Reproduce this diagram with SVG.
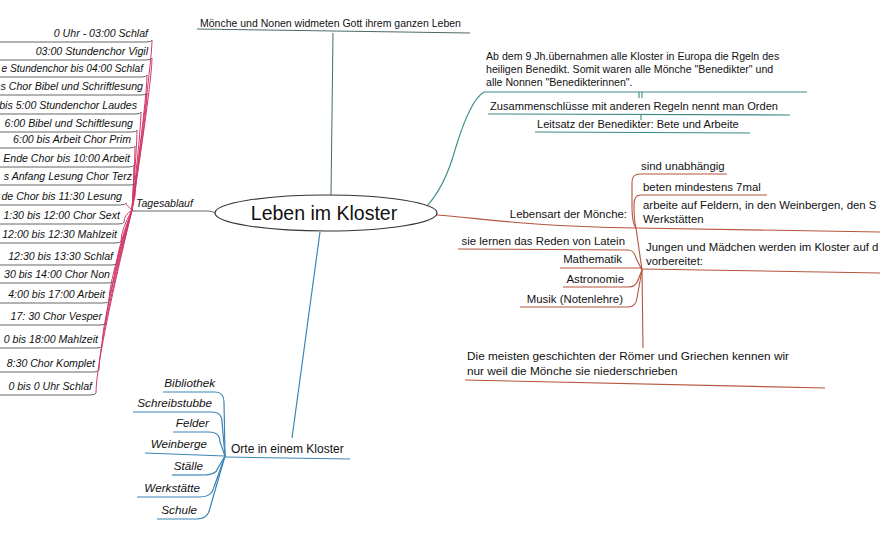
<svg xmlns="http://www.w3.org/2000/svg" width="880" height="540" viewBox="0 0 880 540">
<style>
.t{font-family:"Liberation Sans",Arial,sans-serif;fill:#111}
.ti{font-family:"Liberation Sans",Arial,sans-serif;font-style:italic;fill:#111}
.s{font-size:10.5px}
.r{font-size:10.6px}
.e{text-anchor:end}
.g{fill:none;stroke:#666;stroke-width:1}
.p{fill:none;stroke:#d03a6a;stroke-width:1}
.red{fill:none;stroke:#b5563e;stroke-width:1.1}
.teal{fill:none;stroke:#3b8a88;stroke-width:1.1}
.blue{fill:none;stroke:#3b86b8;stroke-width:1.2}
.dk{fill:none;stroke:#4a6a68;stroke-width:1}
</style>
<rect width="880" height="540" fill="#fff"/>

<g id="connectors">
  <path class="dk" d="M331 195 L333 33"/>
  <path class="teal" d="M427 206 Q445 186 455 150 Q470 100 484 92"/>
  <path class="teal" d="M639 92 V98 M642 92 V98 M641 115 V120"/>
  <path class="red" d="M437 215 C480 218 520 226 636 228"/>
  <path class="red" d="M636 228 Q632 224 632 205 L632 182 Q632 174 640 174"/>
  <path class="red" d="M636 228 Q634 222 634 204 Q634 195 641 195"/>
  <path class="red" d="M636 228 L642 270"/>
  <path class="red" d="M642 270 L643 348"/>
  <path class="red" d="M628 250 Q634 250 636 258 L642 270"/>
  <path class="red" d="M628 287 Q636 287 638 280 L642 270"/>
  <path class="red" d="M628 307 Q636 307 637 298 L642 270"/>
  <path class="blue" d="M320 232 L292 438"/>
  <path class="blue" d="M215 392 Q224 392 224 402 L225 456"/>
  <path class="blue" d="M212 412 Q222 412 222 422 L225 456"/>
  <path class="blue" d="M209 432 Q220 432 220 442 L225 456"/>
  <path class="blue" d="M203 475 Q216 475 218 468 L225 456"/>
  <path class="blue" d="M200 497 Q212 497 214 487 L225 456"/>
  <path class="blue" d="M197 519 Q208 519 210 508 L225 456"/>
  <path class="g" d="M132 211 L208 211 Q212 211 215 213"/>
  <path class="p" d="M132 210 Q152 60 152 40"/>
  <path class="p" d="M132 210 Q152 80 152 58"/>
  <path class="p" d="M132 210 Q147 95 147 75"/>
  <path class="p" d="M132 210 Q147 110 147 93"/>
  <path class="p" d="M132 210 Q141 128 141 112"/>
  <path class="p" d="M132 210 Q137 145 137 130"/>
  <path class="p" d="M132 210 Q135 160 135 146"/>
  <path class="p" d="M132 210 Q134 178 134 165"/>
  <path class="p" d="M132 210 Q136 195 136 183"/>
  <path class="p" d="M132 210 Q126 205 126 203"/>
  <path class="p" d="M132 210 Q124 215 124 222"/>
  <path class="p" d="M132 210 Q121 230 121 241"/>
  <path class="p" d="M132 210 Q117 250 117 263"/>
  <path class="p" d="M132 210 Q114 265 114 281"/>
  <path class="p" d="M132 210 Q109 280 109 301"/>
  <path class="p" d="M132 210 Q106 300 106 323"/>
  <path class="p" d="M132 210 Q102 320 102 346"/>
  <path class="p" d="M132 210 Q99 340 99 370"/>
  <path class="p" d="M132 210 Q96 360 96 393"/>
</g>

<g id="center">
  <ellipse cx="326" cy="213" rx="111" ry="18" fill="#fff" stroke="#333" stroke-width="1.2"/>
  <text class="t" x="324" y="220" font-size="19.5" text-anchor="middle">Leben im Kloster</text>
</g>

<g id="n-top">
  <path class="dk" d="M197 29 L470 33"/>
  <text class="t s" x="200" y="27">Mönche und Nonen widmeten Gott ihrem ganzen Leben</text>
</g>

<g id="n-benedikt">
  <path class="teal" d="M484 92 L807 92"/>
  <text class="t" font-size="10.6" x="486" y="60">Ab dem 9 Jh.übernahmen alle Kloster in Europa die Rgeln des</text>
  <text class="t" font-size="10.6" x="486" y="73">heiligen Benedikt. Somit waren alle Mönche "Benedikter" und</text>
  <text class="t" font-size="10.6" x="486" y="86">alle Nonnen "Benedikterinnen".</text>
</g>
<g id="n-orden">
  <path class="teal" d="M488 114 L790 115"/>
  <text class="t" font-size="11.1" x="490" y="110">Zusammenschlüsse mit anderen Regeln nennt man Orden</text>
</g>
<g id="n-leitsatz">
  <path class="teal" d="M535 132 L750 133"/>
  <text class="t" font-size="11.1" x="537" y="128">Leitsatz der Benedikter: Bete und Arbeite</text>
</g>

<g id="n-lebensart">
  <text class="t e" font-size="11.4" x="627" y="218">Lebensart der Mönche:</text>
</g>
<g id="n-sind">
  <path class="red" d="M640 174 H727"/>
  <text class="t" font-size="11.4" x="641" y="170">sind unabhängig</text>
</g>
<g id="n-beten">
  <path class="red" d="M641 195 H767"/>
  <text class="t" font-size="11.4" x="643" y="191">beten mindestens 7mal</text>
</g>
<g id="n-arbeite">
  <path class="red" d="M636 228 L880 232"/>
  <text class="t" font-size="11.4" x="643" y="209">arbeite auf Feldern, in den Weinbergen, den S</text>
  <text class="t" font-size="11.4" x="643" y="223">Werkstätten</text>
</g>
<g id="n-jungen">
  <path class="red" d="M642 269 L880 273"/>
  <text class="t" font-size="11.4" x="646" y="251">Jungen und Mädchen werden im Kloster auf d</text>
  <text class="t" font-size="11.4" x="646" y="265">vorbereitet:</text>
</g>
<g id="n-latein">
  <path class="red" d="M458 249 L628 250"/>
  <text class="t e" font-size="11.4" x="625" y="245">sie lernen das Reden von Latein</text>
</g>
<g id="n-mathe">
  <path class="red" d="M560 268 H642"/>
  <text class="t e" font-size="11.4" x="622" y="263">Mathematik</text>
</g>
<g id="n-astro">
  <path class="red" d="M563 287 H628"/>
  <text class="t e" font-size="11.4" x="624" y="283">Astronomie</text>
</g>
<g id="n-musik">
  <path class="red" d="M520 307 H628"/>
  <text class="t e" font-size="11.4" x="623" y="303">Musik (Notenlehre)</text>
</g>
<g id="n-meisten">
  <path class="red" d="M465 380 L825 388"/>
  <text class="t" font-size="11.8" x="467" y="360">Die meisten geschichten der Römer und Griechen kennen wir</text>
  <text class="t" font-size="11.8" x="467" y="375">nur weil die Mönche sie niederschrieben</text>
</g>

<g id="n-orte">
  <path class="blue" d="M224 457 L350 459"/>
  <text class="t" font-size="12" x="231" y="453">Orte in einem Kloster</text>
</g>
<g id="n-bibliothek"><path class="blue" d="M163 392 H215"/><text class="ti e" font-size="11.7" x="215" y="387">Bibliothek</text></g>
<g id="n-schreib"><path class="blue" d="M133 412 H212"/><text class="ti e" font-size="11.7" x="212" y="407">Schreibstubbe</text></g>
<g id="n-felder"><path class="blue" d="M173 432 H209"/><text class="ti e" font-size="11.7" x="209" y="427">Felder</text></g>
<g id="n-weinberge"><path class="blue" d="M145 453 L225 456"/><text class="ti e" font-size="11.7" x="207" y="448">Weinberge</text></g>
<g id="n-staelle"><path class="blue" d="M172 475 H203"/><text class="ti e" font-size="11.7" x="203" y="470">Ställe</text></g>
<g id="n-werk"><path class="blue" d="M137 497 H200"/><text class="ti e" font-size="11.7" x="200" y="492">Werkstätte</text></g>
<g id="n-schule"><path class="blue" d="M157 519 H197"/><text class="ti e" font-size="11.7" x="197" y="514">Schule</text></g>

<g id="n-tages">
  <text class="ti" font-size="10.5" x="136" y="207">Tagesablauf</text>
</g>

<g id="n-t1"><path class="g" d="M-5 42 H146 Q152 42 152 40"/><text class="ti r e" x="148" y="37">0 Uhr - 03:00 Schlaf</text></g>
<g id="n-t2"><path class="g" d="M-5 60 H146 Q152 60 152 58"/><text class="ti r e" x="148" y="55">03:00 Stundenchor Vigil</text></g>
<g id="n-t3"><path class="g" d="M-5 77 H141 Q147 77 147 75"/><text class="ti e" font-size="10.2" x="143" y="72">e Stundenchor bis 04:00 Schlaf</text></g>
<g id="n-t4"><path class="g" d="M-5 95 H141 Q147 95 147 93"/><text class="ti r e" x="143" y="90">s Chor Bibel und Schriftlesung</text></g>
<g id="n-t5"><path class="g" d="M-5 114 H135 Q141 114 141 112"/><text class="ti r e" x="137" y="109">bis 5:00 Stundenchor Laudes</text></g>
<g id="n-t6"><path class="g" d="M-5 132 H131 Q137 132 137 130"/><text class="ti r e" x="133" y="127">6:00 Bibel und Schiftlesung</text></g>
<g id="n-t7"><path class="g" d="M-5 148 H129 Q135 148 135 146"/><text class="ti r e" x="131" y="143">6:00 bis Arbeit Chor Prim</text></g>
<g id="n-t8"><path class="g" d="M-5 167 H128 Q134 167 134 165"/><text class="ti r e" x="130" y="162">Ende Chor bis 10:00 Arbeit</text></g>
<g id="n-t9"><path class="g" d="M-5 185 H130 Q136 185 136 183"/><text class="ti r e" x="132" y="180">s Anfang Lesung Chor Terz</text></g>
<g id="n-t10"><path class="g" d="M-5 205 H120 Q126 205 126 203"/><text class="ti r e" x="122" y="200">de Chor bis 11:30 Lesung</text></g>
<g id="n-t11"><path class="g" d="M-5 224 H118 Q124 224 124 222"/><text class="ti r e" x="120" y="219">1:30 bis 12:00 Chor Sext</text></g>
<g id="n-t12"><path class="g" d="M-5 243 H115 Q121 243 121 241"/><text class="ti r e" x="117" y="238">12:00 bis 12:30 Mahlzeit</text></g>
<g id="n-t13"><path class="g" d="M-5 265 H111 Q117 265 117 263"/><text class="ti r e" x="113" y="260">12:30 bis 13:30 Schlaf</text></g>
<g id="n-t14"><path class="g" d="M-5 283 H108 Q114 283 114 281"/><text class="ti r e" x="110" y="278">30 bis 14:00 Chor Non</text></g>
<g id="n-t15"><path class="g" d="M-5 303 H103 Q109 303 109 301"/><text class="ti r e" x="105" y="298">4:00 bis 17:00 Arbeit</text></g>
<g id="n-t16"><path class="g" d="M-5 325 H100 Q106 325 106 323"/><text class="ti r e" x="102" y="320">17: 30 Chor Vesper</text></g>
<g id="n-t17"><path class="g" d="M-5 348 H96 Q102 348 102 346"/><text class="ti r e" x="98" y="343">0 bis 18:00 Mahlzeit</text></g>
<g id="n-t18"><path class="g" d="M-5 372 H93 Q99 372 99 370"/><text class="ti r e" x="95" y="367">8:30 Chor Komplet</text></g>
<g id="n-t19"><path class="g" d="M-5 395 H90 Q96 395 96 393"/><text class="ti r e" x="92" y="390">0 bis 0 Uhr Schlaf</text></g>
</svg>
